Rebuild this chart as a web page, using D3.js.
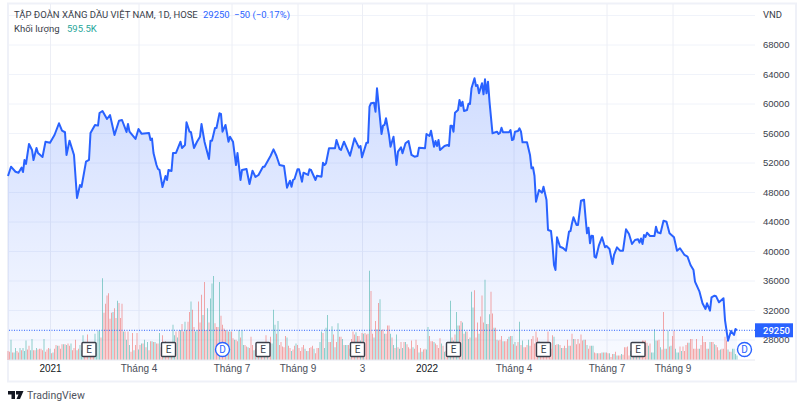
<!DOCTYPE html>
<html>
<head>
<meta charset="utf-8">
<script src="https://d3js.org/d3.v7.min.js"></script>
<style>
body { margin: 0; background: #fff; }
svg { display: block; font-family: Roboto, "Noto Sans", sans-serif; }
.tick text { fill: #3a3e4a; }
</style>
</head>
<body>
<svg></svg>
<script>
// price, as pairs of bar number / close
var priceBar = [0,2,5,7,9,10,11,12,14,16,17,19,20,23,25,28,31,34,36,38,39,41,44,46,48,49,52,54,55,58,60,61,63,66,68,71,74,76,79,80,81,85,87,89,94,95,96,97,99,100,101,103,105,106,107,109,110,112,115,116,118,119,121,122,124,126,128,129,131,134,135,136,138,139,141,142,143,145,147,148,150,152,153,155,156,159,161,163,165,167,170,171,175,177,179,181,184,186,188,189,190,191,193,194,196,197,200,201,202,205,206,209,210,211,212,214,218,219,221,222,224,228,231,234,235,236,239,240,241,242,244,245,246,247,249,250,251,252,254,255,257,259,260,262,263,265,267,269,271,273,274,278,279,281,282,284,285,286,287,288,291,293,294,295,296,297,298,300,301,302,303,304,306,307,308,309,311,312,313,314,316,317,318,319,320,321,323,326,327,328,329,330,334,335,336,337,338,340,341,342,343,346,348,349,350,351,352,354,356,357,359,360,362,363,364,365,366,368,370,372,374,375,376,377,379,380,382,384,385,386,387,388,389,390,391,392,394,396,398,399,401,403,404,406,408,410,412,414,416,418,420,421,422,423,424,425,426,428,431,432,433,435,437,439,441,444,446,448,451,453,455,457,458,461,463,465,466,468,469,471,472,474,477,478,480,482,484,485,486];
var priceVal = [50170,51430,50750,50620,51300,50710,52340,51800,54510,53700,52340,53970,53290,52750,54820,54690,55730,57320,56310,56100,53020,54960,53020,47190,48950,48680,52110,52340,56000,57090,57000,58710,58990,57900,58440,55730,57670,57760,56140,57220,56180,55190,56540,55910,56000,55050,55250,53290,51660,51120,51000,48680,50170,49630,50980,50850,53290,53290,54820,53970,54370,57450,56180,56100,53970,54820,55500,57220,54820,52480,54960,54960,56680,56680,58670,58580,56180,57090,54820,55500,54820,51660,53290,49630,50980,51120,49090,50890,50040,50310,51430,51430,52880,53790,52880,51660,51530,48580,49530,48720,49630,49760,51080,51100,49400,50620,50310,51080,50980,49630,50210,50080,51970,51660,51890,53930,53930,55050,53830,53700,54820,52920,55280,54010,54240,52710,54690,54690,59570,60030,60110,58890,62060,60030,55870,56990,57100,58000,55730,54140,55500,51660,53470,54060,53250,54600,54920,53020,52790,52880,54010,53930,55870,55590,56310,54140,54920,54240,55050,53700,54240,54370,54230,56990,56990,56180,58750,59120,60480,59660,60250,58990,59120,59970,59930,62060,63420,62370,62500,61380,62740,61250,63280,61380,62960,60250,55960,56180,55870,56000,56720,56100,56100,56410,55050,55150,56180,56280,56640,56180,54740,54740,53020,51210,51350,50170,46690,48270,47910,48720,46920,42850,42710,40810,38100,37420,41860,40580,40410,40040,42620,42710,43760,44570,43530,43530,46820,46960,44610,42400,43160,41050,42080,42040,39230,39090,40810,41860,40500,40680,40270,38240,39460,40500,40040,40040,42940,42310,40950,41490,41590,41130,41700,40950,42170,41900,42480,42040,42040,43300,42540,42400,44110,43970,42400,41860,40040,40370,39460,39230,38100,37420,35840,34480,32910,32140,32910,31910,33720,33940,33880,33040,33590,30640,27840,29150,28610,29420,29250];

// volume per bar, in millions
var volume = [1.2,1.1,2.7,1.0,1.0,1.6,1.2,1.0,1.6,1.3,
1.6,1.2,2.6,1.4,1.9,1.3,2.8,1.3,1.3,1.6,
1.4,1.5,1.5,1.3,2.8,1.1,1.4,1.6,1.5,0.9,
1.0,1.5,2.0,1.9,1.9,1.5,2.1,2.1,2.1,2.0,
2.2,1.9,2.2,1.3,1.6,2.7,1.3,1.5,2.0,1.3,
3.3,1.5,1.5,3.4,1.7,1.7,1.5,2.0,3.5,2.3,
3.9,3.9,3.0,10.9,6.3,7.5,8.6,8.9,5.5,6.3,
6.4,6.9,5.6,7.9,7.6,5.6,7.5,3.8,3.8,2.7,
3.8,2.0,1.1,3.6,1.3,2.0,3.6,1.4,2.0,2.2,
2.2,2.7,1.7,2.4,1.3,2.5,2.5,2.4,2.4,2.2,
2.2,3.6,1.7,3.3,1.3,2.5,2.2,2.0,2.2,1.8,
4.7,3.3,3.8,3.0,3.9,4.0,4.8,3.8,5.1,4.0,
5.1,6.4,7.8,6.7,4.4,3.8,4.0,7.8,5.0,8.7,
6.0,10.4,4.0,6.9,5.0,8.2,10.2,11.2,4.9,4.4,
4.4,10.4,5.9,4.7,4.2,4.0,3.9,3.8,3.8,3.8,
2.9,2.7,2.7,2.5,4.0,3.0,4.0,2.0,2.0,1.8,
1.7,1.6,3.1,2.0,1.3,1.5,1.9,1.5,1.7,1.6,
2.0,1.7,3.3,1.6,2.0,3.1,2.2,6.7,4.7,3.5,
5.2,2.0,2.4,1.8,1.7,3.2,3.0,1.9,1.6,1.2,
1.4,1.9,2.2,2.0,1.6,1.2,1.7,2.0,1.5,1.2,
1.2,1.6,1.7,1.9,1.5,0.9,1.6,1.6,2.4,3.8,
3.6,1.6,4.3,6.0,2.4,2.4,4.5,3.4,1.7,2.4,
4.9,3.1,3.1,2.8,2.0,2.0,2.0,2.0,1.5,2.8,
3.8,3.4,3.7,3.2,3.2,2.6,3.6,3.5,3.6,3.4,
3.5,11.9,9.2,3.5,3.0,5.2,4.1,7.6,8.1,4.0,
4.1,3.5,3.5,4.6,4.6,3.5,3.0,2.0,1.6,3.4,
1.7,1.5,2.4,1.6,2.4,2.4,2.1,1.7,1.5,2.6,
1.7,1.5,2.7,2.0,1.0,1.6,1.1,1.4,1.5,1.4,
4.4,3.2,2.5,2.5,2.4,2.2,2.0,1.6,2.9,2.2,
1.9,1.1,1.2,1.9,1.1,7.9,3.0,2.6,3.4,6.4,
4.6,4.6,5.2,5.0,3.5,3.8,3.8,2.8,3.0,9.1,
7.0,9.3,3.0,5.0,3.5,5.8,8.6,5.0,10.7,4.8,
4.8,6.1,9.1,6.2,4.3,4.3,2.7,2.6,2.7,3.2,
2.5,2.5,2.5,2.8,3.1,3.2,3.2,2.1,2.4,1.9,
2.4,5.1,2.0,2.6,1.7,1.7,2.0,2.7,1.9,2.8,
3.2,2.2,3.8,3.0,2.5,1.6,2.0,2.3,1.6,1.9,
3.8,2.0,1.5,3.3,3.1,2.0,2.1,2.1,2.0,1.6,
1.6,1.9,1.6,2.7,1.9,1.9,3.5,2.8,2.8,2.1,
2.8,2.2,3.4,2.6,2.7,2.7,2.0,1.5,1.9,1.9,
1.9,1.0,0.9,0.9,0.9,0.9,1.0,1.0,1.0,1.0,
0.9,0.9,0.4,0.8,0.8,1.1,0.6,0.6,0.6,0.8,
0.7,1.7,1.7,1.8,0.6,1.2,1.3,1.4,1.6,1.7,
1.5,2.0,2.3,2.6,2.6,2.6,2.3,1.9,2.2,1.0,
1.0,4.1,2.6,2.6,2.7,1.7,1.4,6.4,1.5,1.5,
3.9,1.8,1.9,3.2,3.9,1.5,1.0,1.0,1.8,1.2,
1.8,1.2,2.0,2.3,2.3,2.8,2.8,1.5,1.5,2.8,
1.5,1.5,2.0,3.2,2.4,2.4,1.5,1.5,2.4,2.4,
2.4,2.1,2.0,1.7,1.3,1.4,1.5,1.5,3.1,2.6,
1.4,1.1,1.1,1.5,1.5,0.8,0.6];

// g = up day, r = down day, one letter per volume bar
var volumeDir = ('rrgrggrrgr' + 'gggrrggrrg' + 'rrrrgrrrgr' + 'grrgrrrgrg' + 'rrgrrrgrgg' +
  'grrrgrrrgg' + 'ggrgrrrrrr' + 'grrgrrrgrg' + 'rgrrgrrgrg' + 'rgrgrrgrgr' +
  'rgrrgrrrgr' + 'ggrgrgrrgr' + 'rrgrrggrrr' + 'grrgrgggrr' + 'rgrrrrgrgr' +
  'rgrrgrggrr' + 'grrrgrgrgr' + 'rgrgrrgggr' + 'grrrrrgrrg' + 'rrgrrrrrgr' +
  'grrrgrrrgg' + 'rgggrrgrgr' + 'grrgrggrgr' + 'rrgrrgrgrr' + 'rgrrgrgrgr' +
  'rgrrrgrgrg' + 'rgrgrgrrrr' + 'grrrgrgrrg' + 'grrrgrrrrg' + 'rgrrggrgrg' +
  'grrgrgrgrg' + 'grrrgrrrgg' + 'rgrrgrgrrr' + 'grrrgrgrgr' + 'rgrgrrrgrr' +
  'rrrrgrrrrr' + 'rrrrgrrgrg' + 'rrgrgrrgrr' + 'rrrrgrgrrg' + 'grrgrrgrgr' +
  'rgrrgrgrrg' + 'rrrrrgrgrg' + 'rgrrrrrgrg' + 'gggrrgrrgr' + 'grgrrgggrg' +
  'rrrrgrrrrr' + 'rgrrrrgrgr' + 'rgrrrgrrrr' + 'grrgg' + 'gg').split('');

var priceTicks = [28000,32000,36000,40000,44000,48000,52000,56000,60000,64000,68000];
var gridTicks = priceTicks.concat([72000]);

// bar number of each time axis label
var timeBars = [28,87,149,193,236,279,337,399,443];
var timeLabels = ['2021','Tháng 4','Tháng 7','Tháng 9','3','2022','Tháng 4','Tháng 7','Tháng 9'];
var yearLabels = ['2021','2022'];

var earningBars = [54,107,170,233,297,357,420];
var dividendBars = [143,491];

var lastPrice = 29250;

var width = 800, height = 408;
var svg = d3.select('svg').attr('width', width).attr('height', height);

var x = d3.scaleLinear().domain([0, 496]).range([8, 752]);
var y = d3.scaleLinear().domain([28000, 68000]).range([339.5, 44.5]);
var yVol = d3.scaleLinear().domain([0, 12]).range([360, 270]);

var blue = '#2962ff';
var pricePts = priceBar.map(function(b, i) { return [b, priceVal[i]]; });

// frame
svg.append('rect')
    .attr('x', 8).attr('y', 3.5)
    .attr('width', 788).attr('height', 378)
    .attr('fill', 'none').attr('stroke', '#eff1f8').attr('stroke-width', 2);

// grid, drawn by the axes
svg.append('g')
    .attr('transform', 'translate(9,0)')
    .call(d3.axisRight(y).tickValues(gridTicks).tickSize(746).tickFormat(''))
    .call(function(g) {
        g.select('.domain').remove();
        g.selectAll('line').attr('stroke', '#f0f3fa');
    });
svg.append('g')
    .attr('transform', 'translate(0,4)')
    .call(d3.axisBottom(x).tickValues(timeBars).tickSize(356).tickFormat(''))
    .call(function(g) {
        g.select('.domain').remove();
        g.selectAll('line').attr('stroke', '#eceef5');
    });

// area + line
var grad = svg.append('defs').append('linearGradient')
    .attr('id', 'fade').attr('gradientUnits', 'userSpaceOnUse')
    .attr('x1', 0).attr('x2', 0).attr('y1', 78).attr('y2', 360);
grad.append('stop').attr('offset', 0).attr('stop-color', blue).attr('stop-opacity', 0.22);
grad.append('stop').attr('offset', 1).attr('stop-color', blue).attr('stop-opacity', 0.03);

svg.append('path')
    .attr('d', d3.area().x(function(d) { return x(d[0]); }).y0(360).y1(function(d) { return y(d[1]); })(pricePts))
    .attr('fill', 'url(#fade)');

// volume
svg.append('g').selectAll('rect')
    .data(volume)
    .enter().append('rect')
    .attr('x', function(d, i) { return x(i) - 0.5; })
    .attr('y', function(d) { return yVol(d); })
    .attr('width', 1)
    .attr('height', function(d) { return 360 - yVol(d); })
    .attr('fill', function(d, i) { return volumeDir[i] === 'g' ? '#26a69a' : '#ef5350'; })
    .attr('fill-opacity', 0.5);

svg.append('path')
    .attr('d', d3.line().x(function(d) { return x(d[0]); }).y(function(d) { return y(d[1]); })(pricePts))
    .attr('fill', 'none').attr('stroke', blue).attr('stroke-width', 2).attr('stroke-linejoin', 'round');

// last price line
svg.append('line')
    .attr('x1', 9).attr('x2', 755)
    .attr('y1', y(lastPrice)).attr('y2', y(lastPrice))
    .attr('stroke', blue).attr('stroke-width', 1).attr('stroke-dasharray', '1 1.5');

// bottom line of the plot
svg.append('line').attr('x1', 9).attr('x2', 755).attr('y1', 360).attr('y2', 360).attr('stroke', '#e6e8f0');

// axes labels
svg.append('g')
    .attr('transform', 'translate(755,0)')
    .call(d3.axisRight(y).tickValues(priceTicks).tickSize(0).tickPadding(8).tickFormat(d3.format('d')))
    .call(function(g) {
        g.select('.domain').remove();
        g.selectAll('text').attr('font-size', 9.5);
    });
svg.append('g')
    .attr('transform', 'translate(0,360)')
    .call(d3.axisBottom(x).tickValues(timeBars).tickSize(0).tickPadding(5)
        .tickFormat(function(d, i) { return timeLabels[i]; }))
    .call(function(g) {
        g.select('.domain').remove();
        g.selectAll('text')
            .attr('font-size', 10)
            .style('fill', function(d, i) { return yearLabels.indexOf(timeLabels[i]) >= 0 ? '#131722' : '#4a4e59'; })
            .attr('font-weight', function(d, i) { return yearLabels.indexOf(timeLabels[i]) >= 0 ? 500 : 400; });
    });

// last price tag
svg.append('rect')
    .attr('x', 755).attr('y', y(lastPrice) - 7).attr('width', 38).attr('height', 14)
    .attr('fill', blue);
svg.append('text')
    .attr('x', 763).attr('y', y(lastPrice) + 3.5)
    .attr('font-size', 9.5).attr('font-weight', 500).attr('fill', '#fff')
    .text(lastPrice);

// E and D markers
var marks = svg.append('g');
var earn = marks.selectAll('g.e').data(earningBars).enter().append('g')
    .attr('transform', function(d) { return 'translate(' + x(d) + ',349.5)'; });
earn.append('rect')
    .attr('x', -7).attr('y', -7).attr('width', 14).attr('height', 14).attr('rx', 1)
    .attr('fill', '#fff').attr('stroke', '#3a3e4a').attr('stroke-width', 1.4);
earn.append('text')
    .attr('text-anchor', 'middle').attr('y', 3.6).attr('font-size', 10).attr('fill', '#3a3e4a').text('E');

var divi = marks.selectAll('g.d').data(dividendBars).enter().append('g')
    .attr('transform', function(d) { return 'translate(' + x(d) + ',349.5)'; });
divi.append('circle')
    .attr('r', 7).attr('fill', '#fff').attr('stroke', blue).attr('stroke-width', 1.4);
divi.append('text')
    .attr('text-anchor', 'middle').attr('y', 3.6).attr('font-size', 10).attr('fill', blue).text('D');

// header
var head = svg.append('g').attr('font-size', 9.5);
head.append('text').attr('x', 14).attr('y', 18).attr('fill', '#3a3e4a').text('TẬP ĐOÀN XĂNG DẦU VIỆT NAM, 1D, HOSE');
head.append('text').attr('x', 203).attr('y', 18).attr('fill', blue).text('29250');
head.append('text').attr('x', 234).attr('y', 18).attr('fill', blue).text('−50 (−0.17%)');
head.append('text').attr('x', 14).attr('y', 32).attr('fill', '#3a3e4a').text('Khối lượng');
head.append('text').attr('x', 67).attr('y', 32).attr('fill', '#26a69a').text('595.5K');
head.append('text').attr('x', 763).attr('y', 18).attr('fill', '#3a3e4a').text('VND');

// logo
svg.append('path')
    .attr('d', 'M8 391h7v8h-3.5v-4.6H8z M16 391h7.5l-3.5 8h-3.5l2-4.6h-2.5z')
    .attr('fill', '#131722');
svg.append('text').attr('x', 27).attr('y', 399).attr('font-size', 10.5).attr('fill', '#50535e').text('TradingView');
</script>
</body>
</html>
